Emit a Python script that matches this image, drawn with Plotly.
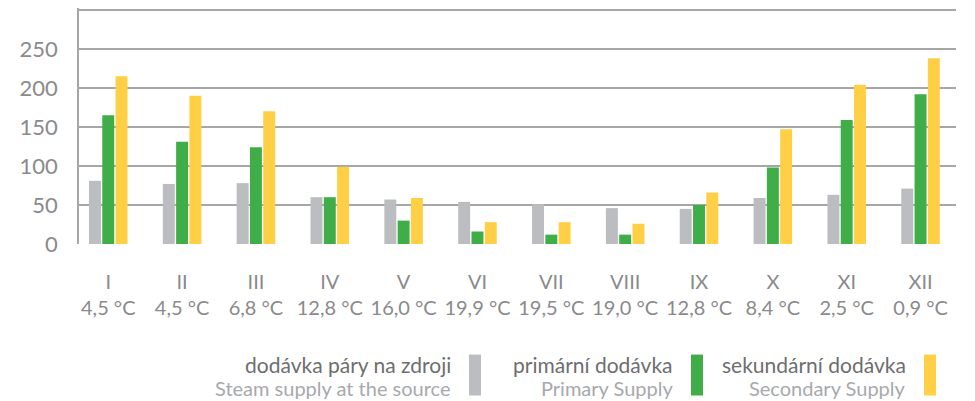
import plotly.graph_objects as go

months = ["I", "II", "III", "IV", "V", "VI", "VII", "VIII", "IX", "X", "XI", "XII"]
temps = ["4,5 °C", "4,5 °C", "6,8 °C", "12,8 °C", "16,0 °C", "19,9 °C",
         "19,5 °C", "19,0 °C", "12,8 °C", "8,4 °C", "2,5 °C", "0,9 °C"]
steam = [81, 77, 78, 60, 57, 54, 51, 46, 45, 59, 63, 71]
primary = [165, 131, 124, 60, 30, 16, 12, 12, 50, 98, 159, 192]
secondary = [215, 190, 170, 99, 59, 28, 28, 26, 66, 147, 204, 238]
y_ticks = [0, 50, 100, 150, 200, 250, 300]
y_ticktext = ["0", "50", "100", "150", "200", "250", ""]

series_cz = ["dodávka páry na zdroji", "primární dodávka", "sekundární dodávka"]
series_en = ["Steam supply at the source", "Primary Supply", "Secondary Supply"]
colors = ["#BCBDC0", "#3FAE49", "#FFD045"]

FONT = "Lato"
# page has an 8px body margin, so the figure is drawn 8px smaller
W, H = 967, 393
ML, MR, MT, MB = 71, 19, 0, 156.7
PW, PH = W - ML - MR, H - MT - MB


def px(x):
    return (x - ML) / PW


def py(y):
    return (H - MB - y) / PH


fig = go.Figure()
x_idx = list(range(len(months)))
for vals, col, name in zip([steam, primary, secondary], colors, series_en):
    fig.add_trace(go.Bar(x=x_idx, y=vals, marker=dict(color=col, line=dict(width=0)),
                         name=name, showlegend=False))

fig.update_layout(
    width=W, height=H,
    margin=dict(l=ML, r=MR, t=MT, b=MB, autoexpand=False),
    plot_bgcolor="white", paper_bgcolor="white",
    barmode="group", bargap=0.46, bargroupgap=0.1,
    font=dict(family=FONT, color="#8a8a8c"),
)
fig.update_xaxes(
    range=[-0.396, 11.48],
    tickvals=x_idx,
    ticktext=[f"{m}<br>{t}" for m, t in zip(months, temps)],
    tickfont=dict(size=20, color="#8a8a8c"),
    showgrid=False, zeroline=False, showline=False,
    ticks="outside", ticklen=20, tickcolor="rgba(0,0,0,0)",
)
fig.update_yaxes(
    range=[0, 302.5],
    tickvals=y_ticks, ticktext=y_ticktext,
    tickfont=dict(size=22, color="#8a8a8c"),
    showgrid=True, gridcolor="#A6A6A6", gridwidth=1.5,
    zeroline=False, showline=True, linecolor="#A6A6A6", linewidth=1.5,
    ticks="outside", ticklen=15, tickcolor="rgba(0,0,0,0)",
)

# custom legend
text_right = [445, 667, 900]
sw_left = [461, 683, 916]
for cz, en, col, tr, sl in zip(series_cz, series_en, colors, text_right, sw_left):
    fig.add_annotation(xref="paper", yref="paper", x=px(tr), y=py(357),
                       text=cz, showarrow=False, xanchor="right", yanchor="middle",
                       font=dict(size=21, color="#6d6e70", family=FONT))
    fig.add_annotation(xref="paper", yref="paper", x=px(tr), y=py(380),
                       text=en, showarrow=False, xanchor="right", yanchor="middle",
                       font=dict(size=20, color="#a7a9ac", family=FONT))
    fig.add_shape(type="rect", xref="paper", yref="paper",
                  x0=px(sl), x1=px(sl + 12), y0=py(388), y1=py(347),
                  fillcolor=col, line=dict(width=0))

fig.write_html("out.html")
